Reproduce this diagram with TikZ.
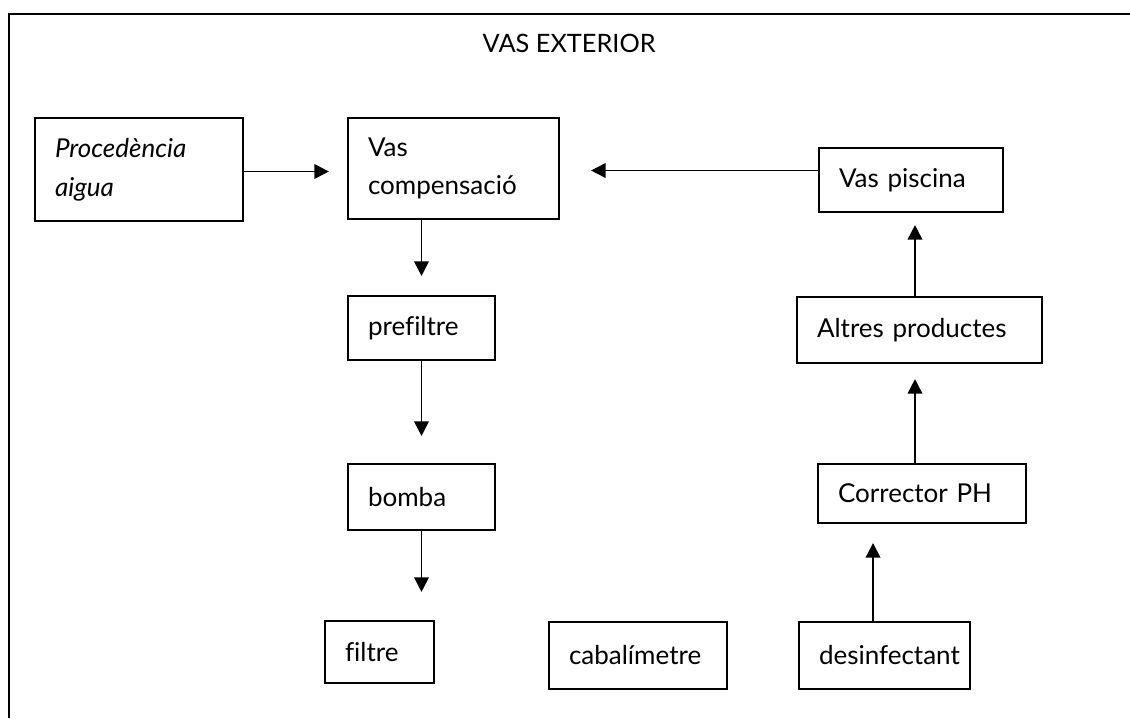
\documentclass[tikz,border=0pt]{standalone}
\usepackage{fontspec}
\setmainfont{Lato}[Ligatures={NoCommon}]
\usepackage{tikz}
\usetikzlibrary{arrows.meta, positioning}
\tikzset{>={Triangle[length=11pt,width=11pt]}}
\tikzset{caixa/.style={draw, line width=1.6pt, inner xsep=15pt, inner ysep=0pt, align=left, font=\fontsize{19.5}{29}\selectfont},
  fletxa/.style={->, line width=1.4pt}}

\begin{document}
\begin{tikzpicture}[x=0.75pt, y=-0.75pt]
    \useasboundingbox (0,0) rectangle (1130,718);
    \draw[line width=1.6pt] (9,718) |- (1130,14);
    \node (titol) [font=\fontsize{19}{21}\selectfont, anchor=base west] at (478,52) {VAS EXTERIOR};

    % columna esquerra
    \node (proc) [caixa, text width=126pt, minimum height=77.25pt] at (139,169.5) {\itshape Procedència\\\itshape aigua};
    \node (comp) [caixa, text width=128.25pt, minimum height=75.75pt] at (453.5,168.5) {Vas\\compensació};
    \node (prefiltre) [caixa, text width=80.25pt, minimum height=48pt] at (421.5,328) {prefiltre};
    \node (bomba) [caixa, text width=80.25pt, minimum height=49.5pt] at (421.5,497) {bomba};
    \node (filtre) [caixa, text width=51.75pt, minimum height=46.5pt] at (379.5,652) {filtre};
    \node (cabal) [caixa, text width=103.5pt, minimum height=50.25pt] at (638,655.5) {cabalímetre};

    % columna dreta
    \node (desinf) [caixa, text width=98.25pt, minimum height=50.25pt] at (884.5,655.5) {desinfectant};
    \node (corr) [caixa, text width=126pt, minimum height=44.25pt] at (922,493.5) {Corrector PH};
    \node (altres) [caixa, text width=153.75pt, minimum height=49.5pt] at (919.5,330) {Altres productes};
    \node (pisc) [caixa, text width=108pt, minimum height=48pt] at (911,180) {Vas piscina};

    \draw[fletxa, shorten >=13.5pt] ([yshift=-1.5pt]proc.east) -- ([yshift=-1.5pt]proc.east -| comp.west);
    \draw[fletxa, shorten >=23.25pt] ([yshift=-1.5pt]comp.east -| pisc.west) -- ([yshift=-1.5pt]comp.east);
    \draw[fletxa, shorten >=14.25pt] (comp.south -| prefiltre) -- (prefiltre.north);
    \draw[fletxa, shorten >=20.25pt] (prefiltre.south) -- (bomba.north);
    \draw[fletxa, shorten >=21pt] (bomba.south) -- (bomba.south |- filtre.north);
    \draw[fletxa, shorten >=14.25pt] ([xshift=-8.6pt]desinf.north) -- ([xshift=-8.6pt]desinf.north |- corr.south);
    \draw[fletxa, shorten >=11.25pt] ([xshift=-5.25pt]corr.north) -- ([xshift=-5.25pt]corr.north |- altres.south);
    \draw[fletxa, shorten >=9pt] ([xshift=3pt]pisc.south |- altres.north) -- ([xshift=3pt]pisc.south);
\end{tikzpicture}
\end{document}
